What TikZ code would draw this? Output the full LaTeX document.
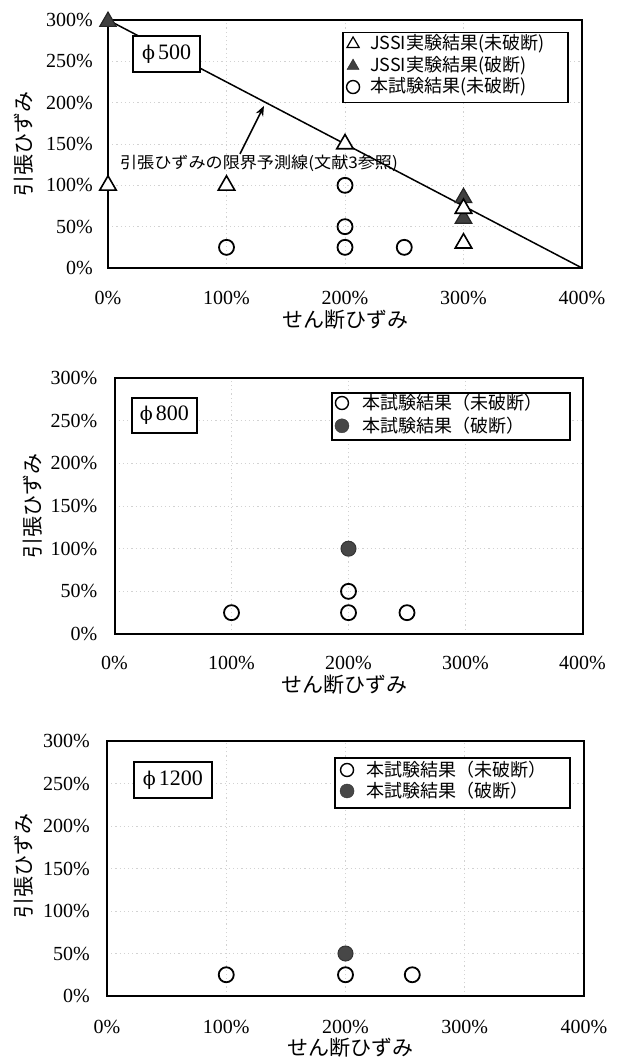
\documentclass[tikz,border=0pt]{standalone}
\usepackage{fontspec}
\setmainfont{Liberation Serif}
\newfontfamily\jp{Noto Sans CJK JP}
\newfontfamily\grk{DejaVu Serif}
\usetikzlibrary{shapes.geometric,arrows.meta}
\newcommand{\phisym}{{\grk\fontsize{19}{19}\selectfont ϕ}\kern3pt}
\begin{document}
\begin{tikzpicture}[x=1pt,y=-1pt,
  frame/.style={line width=2pt},
  gridline/.style={gray!35, line width=0.8pt, dash pattern=on 1.2pt off 3pt},
  ticklab/.style={font=\fontsize{20}{20}\selectfont, inner sep=0pt},
  ytitle/.style={font=\jp\fontsize{21}{21}\selectfont, rotate=90, inner sep=0pt},
  xtitle/.style={font=\jp\fontsize{21}{21}\selectfont, inner sep=0pt},
  tagbox/.style={draw, line width=1.8pt, fill=white, inner sep=0pt, font=\fontsize{22}{22}\selectfont},
  legbox/.style={draw, line width=1.6pt, fill=white},
  legtext/.style={font=\jp\fontsize{18}{18}\selectfont, anchor=west, inner sep=0pt},
  ocirc/.style={circle, draw, line width=1.8pt, minimum size=15pt, inner sep=0pt},
  fcirc/.style={circle, draw=black!80, fill=black!72, line width=1pt, minimum size=15pt, inner sep=0pt},
  otri/.style={regular polygon, regular polygon sides=3, draw, fill=white, line width=1.6pt, minimum size=19pt, inner sep=0pt},
  ftri/.style={regular polygon, regular polygon sides=3, draw=black!85, fill=black!75, line width=1.2pt, minimum size=19pt, inner sep=0pt},
  lcirc/.style={circle, draw, line width=1.4pt, minimum size=13pt, inner sep=0pt},
  lfcirc/.style={circle, draw=black!80, fill=black!72, minimum size=14pt, inner sep=0pt},
  lotri/.style={regular polygon, regular polygon sides=3, draw, line width=1.2pt, minimum size=14pt, inner sep=0pt},
  lftri/.style={regular polygon, regular polygon sides=3, draw=black!85, fill=black!75, minimum size=14pt, inner sep=0pt},
]
\useasboundingbox (0,0) rectangle (618,1060);

% ================= Plot 1 (phi 500) =================
\begin{scope}[shift={(108,268)}, x=1.185pt, y=0.8267pt]
  \foreach \t in {50,100,150,200,250} \draw[gridline] (0,\t) -- (400,\t);
  \foreach \s in {100,200,300} \draw[gridline] (\s,0) -- (\s,300);
  \coordinate (a1start) at (0,300);
  \coordinate (a1end) at (400,0);
  \draw[line width=1.5pt] (a1start) -- (a1end);
  \node[tagbox, minimum width=67pt, minimum height=36pt] (a1tag) at (49.4,258.9) {\phisym 500};
  \node[legbox, minimum width=225pt, minimum height=70pt] (a1leg) at (293.2,242.5) {};
  \node[lotri] (a1l1) at (206.8,271) {};
  \node[lftri] (a1l2) at (206.8,244.3) {};
  \node[lcirc] (a1l3) at (206.8,218.9) {};
  \node[legtext] (a1t1) at (221,271) {JSSI実験結果(未破断)};
  \node[legtext] (a1t2) at (221,244.3) {JSSI実験結果(破断)};
  \node[legtext] (a1t3) at (221,218.9) {本試験結果(未破断)};
  \node[font=\jp\fontsize{16}{16}\selectfont, inner sep=0pt] (a1note) at (127.4,127) {\scalebox{1.07}[1]{引張ひずみの限界予測線(文献3参照)}};
  \coordinate (a1tail) at (111.4,138);
  \coordinate (a1tip) at (131.6,196);
  \draw[line width=1.6pt, -{Stealth[length=10pt,width=8pt]}] (a1tail) -- (a1tip);
  \draw[frame] (0,0) rectangle (400,300);
  % data
  \node[otri] (a1p1) at (0,100) {};
  \node[otri] (a1p2) at (100,100) {};
  \node[otri] (a1p3) at (200,150) {};
  \node[otri] (a1p4) at (300,30) {};
  \node[ftri] (a1p5) at (300,85) {};
  \node[ftri] (a1p6) at (300,60) {};
  \node[otri] (a1p7) at (300,72) {};
  \node[ftri] (a1p8) at (0,298) {};
  \node[ocirc] (a1c1) at (100,25) {};
  \node[ocirc] (a1c2) at (200,100) {};
  \node[ocirc] (a1c3) at (200,50) {};
  \node[ocirc] (a1c4) at (200,25) {};
  \node[ocirc] (a1c5) at (250,25) {};
  % ticks
  \foreach \t in {0,50,100,150,200,250,300}
    \node[ticklab, anchor=east, xshift=-15pt] (a1y\t) at (0,\t) {\t\%};
  \foreach \s in {0,100,200,300,400}
    \node[ticklab, yshift=-30pt] (a1x\s) at (\s,0) {\s\%};
  \node[xtitle, yshift=-52pt] (a1xt) at (200,0) {せん断ひずみ};
\end{scope}
\node[ytitle] (a1yt) at (24,144) {引張ひずみ};

% ================= Plot 2 (phi 800) =================
\begin{scope}[shift={(114.5,634)}, x=1.17pt, y=0.8533pt]
  \foreach \t in {50,100,150,200,250} \draw[gridline] (0,\t) -- (400,\t);
  \foreach \s in {100,200,300} \draw[gridline] (\s,0) -- (\s,300);
  \node[tagbox, minimum width=65pt, minimum height=35pt] (a2tag) at (42.6,256) {\phisym 800};
  \node[legbox, minimum width=238pt, minimum height=47pt] (a2leg) at (287.6,254.9) {};
  \node[lcirc] (a2l1) at (194.4,270.7) {};
  \node[lfcirc] (a2l2) at (194.4,244) {};
  \node[legtext] (a2t1) at (212,270.7) {本試験結果（未破断）};
  \node[legtext] (a2t2) at (212,244) {本試験結果（破断）};
  \draw[frame] (0,0) rectangle (400,300);
  \node[fcirc] (a2c0) at (200,100) {};
  \node[ocirc] (a2c1) at (100,25) {};
  \node[ocirc] (a2c2) at (200,50) {};
  \node[ocirc] (a2c3) at (200,25) {};
  \node[ocirc] (a2c4) at (250,25) {};
  \foreach \t in {0,50,100,150,200,250,300}
    \node[ticklab, anchor=east, xshift=-17pt] (a2y\t) at (0,\t) {\t\%};
  \foreach \s in {0,100,200,300,400}
    \node[ticklab, yshift=-29pt] (a2x\s) at (\s,0) {\s\%};
  \node[xtitle, yshift=-51pt] (a2xt) at (197,0) {せん断ひずみ};
\end{scope}
\node[ytitle] (a2yt) at (33,506) {引張ひずみ};

% ================= Plot 3 (phi 1200) =================
\begin{scope}[shift={(107,996)}, x=1.1925pt, y=0.85pt]
  \foreach \t in {50,100,150,200,250} \draw[gridline] (0,\t) -- (400,\t);
  \foreach \s in {100,200,300} \draw[gridline] (\s,0) -- (\s,300);
  \node[tagbox, minimum width=78pt, minimum height=36pt] (a3tag) at (55.2,254.1) {\phisym 1200};
  \node[legbox, minimum width=235pt, minimum height=50pt] (a3leg) at (289.7,250.6) {};
  \node[lcirc] (a3l1) at (201.3,265.9) {};
  \node[lfcirc] (a3l2) at (201.3,241.2) {};
  \node[legtext] (a3t1) at (217.2,265.9) {本試験結果（未破断）};
  \node[legtext] (a3t2) at (217.2,241.2) {本試験結果（破断）};
  \draw[frame] (0,0) rectangle (400,300);
  \node[fcirc] (a3c0) at (200,50) {};
  \node[ocirc] (a3c1) at (100,25) {};
  \node[ocirc] (a3c2) at (200,25) {};
  \node[ocirc] (a3c3) at (256,25) {};
  \foreach \t in {0,50,100,150,200,250,300}
    \node[ticklab, anchor=east, xshift=-17pt] (a3y\t) at (0,\t) {\t\%};
  \foreach \s in {0,100,200,300,400}
    \node[ticklab, yshift=-31pt] (a3x\s) at (\s,0) {\s\%};
  \node[xtitle, yshift=-52pt] (a3xt) at (204,0) {せん断ひずみ};
\end{scope}
\node[ytitle] (a3yt) at (24,866) {引張ひずみ};
\end{tikzpicture}
\end{document}
